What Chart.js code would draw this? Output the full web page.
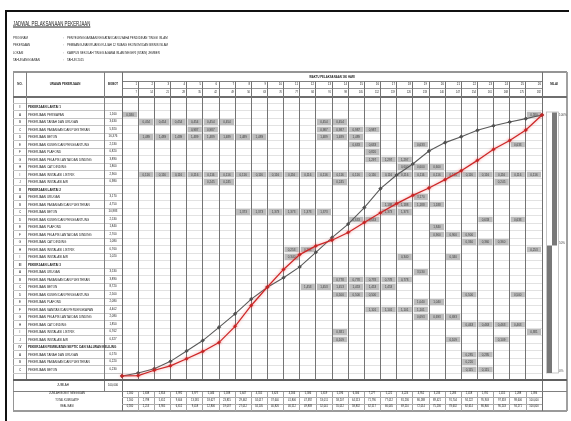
<!DOCTYPE html>
<html><head><meta charset="utf-8">
<script src="https://cdn.jsdelivr.net/npm/chart.js@4.4.1/dist/chart.umd.min.js"></script>
<style>
html,body{margin:0;padding:0;background:#fff;}
#page{position:relative;width:571px;height:421px;overflow:hidden;background:#fff;font-family:"Liberation Sans",Arial,sans-serif;color:#222;}
.t{position:absolute;white-space:nowrap;line-height:1;}
.ln{position:absolute;}
canvas{position:absolute;left:0;top:0;}
</style></head><body><div id="page">
<canvas id="gantt" width="571" height="421" style="z-index:1"></canvas>
<div id="grid" style="position:absolute;left:0;top:0;width:571px;height:421px;z-index:2"></div>
<canvas id="curve" width="571" height="421" style="z-index:4"></canvas>
</div>
<script>
// ---------------- DATA ----------------
const titleText = 'JADWAL PELAKSANAAN PEKERJAAN';
const infoLabels = ['PROGRAM','PEKERJAAN','LOKASI','TAHUN ANGGARAN'];
const infoValues = ['PENYELENGGARAAN KEGIATAN DAN USAHA PENDIDIKAN TINGGI ISLAM','PEMBANGUNAN RUANG KULIAH 12 RUANG EKONOMI DAN BISNIS ISLAM','KAMPUS SEKOLAH TINGGI AGAMA ISLAM NEGERI (STAIN) JEMBER','TAHUN 2015'];
const weekNo = ['1','2','3','4','5','6','7','8','9','10','11','12','13','14','15','16','17','18','19','20','21','22','23','24','25','26'];
const weekDay = ['7','14','21','28','35','42','49','56','63','70','77','84','91','98','105','112','119','126','133','140','147','154','161','168','175','182'];
const rowNo = ['I','A','B','C','D','E','F','G','H','I','J','II','A','B','C','D','E','F','G','H','I','III','A','B','C','D','E','F','G','H','I','J','IV','A','B','C'];
const rowName = ['PEKERJAAN LANTAI 1','PEKERJAAN PERSIAPAN','PEKERJAAN TANAH DAN URUGAN','PEKERJAAN PASANGAN DAN PLESTERAN','PEKERJAAN BETON','PEKERJAAN KUSEN DAN PENGGANTUNG','PEKERJAAN PLAFOND','PEKERJAAN PELAPIS LANTAI DAN DINDING','PEKERJAAN CAT DINDING','PEKERJAAN INSTALASI LISTRIK','PEKERJAAN INSTALASI AIR',
'PEKERJAAN LANTAI 2','PEKERJAAN URUGAN','PEKERJAAN PASANGAN DAN PLESTERAN','PEKERJAAN BETON','PEKERJAAN KUSEN DAN PENGGANTUNG','PEKERJAAN PLAFOND','PEKERJAAN PELAPIS LANTAI DAN DINDING','PEKERJAAN CAT DINDING','PEKERJAAN INSTALASI LISTRIK','PEKERJAAN INSTALASI AIR',
'PEKERJAAN LANTAI 3','PEKERJAAN URUGAN','PEKERJAAN PASANGAN DAN PLESTERAN','PEKERJAAN BETON','PEKERJAAN KUSEN DAN PENGGANTUNG','PEKERJAAN PLAFOND','PEKERJAAN SANITASI DAN PERLENGKAPAN','PEKERJAAN PELAPIS LANTAI DAN DINDING','PEKERJAAN CAT DINDING','PEKERJAAN INSTALASI LISTRIK','PEKERJAAN INSTALASI AIR',
'PEKERJAAN PEMBUATAN SEPTIC DAN SALURAN KELILING','PEKERJAAN TANAH DAN URUGAN','PEKERJAAN PASANGAN DAN PLESTERAN','PEKERJAAN BETON'];
const rowIsGroup = [1,0,0,0,0,0,0,0,0,0,0,1,0,0,0,0,0,0,0,0,0,1,0,0,0,0,0,0,0,0,0,0,1,0,0,0];
const rowBobot = ['','1,160','3,630','5,920','16,376','2,530','0,820','3,890','1,800','2,900','0,980',
'','3,170','4,750','10,983','2,530','1,840','2,700','1,080','0,760','1,020',
'','3,530','3,890','8,720','2,500','2,080','4,402','2,080','1,850','0,762','0,327',
'','0,570','0,220','0,230'];
const rowWeeks = [[],[1,26],[2,3,4,5,6,7,13,14],[5,6,13,14,15,16],[2,3,4,5,6,7,8,9,13,14,15],[15,16,19,25],[16],[16,17,18],[18,19,20],
[2,3,4,5,6,7,8,9,10,11,12,13,14,15,16,17,18,19,20,21,22,23,24,25,26],[6,7,14,24],
[],[19],[17,18,19,20],[8,9,10,11,12,13,17,18],[15,16,23,25],[20],[20,21,22],[22,23,24],[11,12,26],[11,18,21],
[],[19],[14,15,16,17,18],[12,13,14,15,16,17],[14,15,16,22,25],[19,20],[16,17,18,19],[19,20,21],[22,23,24,25],[14,26],[14,21,24],
[],[22,23],[22],[22,23]];
const rowCellValue = ['','0,580','0,454','0,987','1,489','0,633','0,820','1,297','0,600','0,116','0,245',
'','3,170','1,188','1,373','0,633','1,840','0,900','0,360','0,253','0,340',
'','3,530','0,778','1,453','0,500','1,040','1,101','0,693','0,463','0,381','0,109',
'','0,285','0,220','0,115'];
const totalBobot = '100,000';
const summaryLabels = ['JUMLAH BOBOT MINGGUAN','TOTAL KUMULATIF','REALISASI'];
const planWeekly = [1.160,1.638,2.814,3.992,3.977,5.046,5.188,5.647,4.555,3.623,4.166,5.586,5.619,5.196,6.306,7.277,5.222,4.224,4.952,3.233,2.283,2.418,1.781,1.415,1.288,1.394];
const planCumulative = [0,1.160,2.798,5.612,9.604,13.581,18.627,23.815,29.462,34.017,37.640,41.806,47.392,53.011,58.207,64.513,71.790,77.012,81.236,86.188,89.421,91.704,94.122,95.903,97.318,98.606,100.000];
const actualCumulative = [0,0.160,2.213,3.905,6.612,9.418,12.806,19.037,27.012,34.105,40.826,46.512,49.838,52.041,55.012,58.832,62.517,66.045,69.210,72.014,75.236,78.632,82.614,86.846,90.243,94.271,100.000];
const scaleTicks = [0,50,100];

// ---------------- LAYOUT HELPERS ----------------
const page = document.getElementById('grid');
function hl(x1,x2,y,c,w){const d=document.createElement('div');d.className='ln';d.style.cssText=`left:${x1}px;top:${y-w/2}px;width:${x2-x1}px;height:${w}px;background:${c}`;page.appendChild(d);}
function vl(x,y1,y2,c,w){const d=document.createElement('div');d.className='ln';d.style.cssText=`left:${x-w/2}px;top:${y1}px;width:${w}px;height:${y2-y1}px;background:${c}`;page.appendChild(d);}
function tx(s,x,y,o){o=o||{};const d=document.createElement('div');d.className='t';d.textContent=s;
 const size=o.size||4, sx=o.sx||0.78, al=o.align||'left';
 d.style.fontSize=size+'px';d.style.left=x+'px';d.style.top=y+'px';
 d.style.fontWeight=o.bold?'bold':'normal';d.style.color=o.color||'#1c1c1c';
 if(al==='left'){d.style.transformOrigin='0 50%';d.style.transform=`translateY(-50%) scaleX(${sx})`;}
 else if(al==='center'){d.style.transformOrigin='50% 50%';d.style.transform=`translate(-50%,-50%) scaleX(${sx})`;}
 else {d.style.transformOrigin='100% 50%';d.style.transform=`translate(-100%,-50%) scaleX(${sx})`;}
 if(o.underline)d.style.textDecoration='underline';
 page.appendChild(d);}
const fmt = v => v.toFixed(3).replace('.',',');

const L=13,R=567,T=72,XW=122,XE=542,WK=(XE-XW)/26;
const bodyTop=103.25,RH=7.5,nRows=rowNo.length;
const sepY=380,jumB=391,sumLines=[391,397.5,404,410.5],BOT=411;

// frame
hl(5,569,10.5,'#111',2); vl(6,10,421,'#111',2);
// title & info
tx(titleText,13,23,{size:7,sx:0.62,underline:true,color:'#222'});
infoLabels.forEach((s,i)=>{const y=39+i*7.4;tx(s,13,y,{size:3.7});tx(':',63,y,{size:3.7});tx(infoValues[i],67,y,{size:3.7});});

// table lines
hl(L,R,T,'#959595',2);
vl(L,T,BOT,'#959595',1); vl(R,T,BOT,'#a0a0a0',1.5); hl(L,R,BOT,'#9a9a9a',1.5);
hl(XW,XE,81,'#808080',0.8); hl(XW,XE,88.5,'#959595',0.6); hl(L,R,97,'#6e6e6e',1.2);
for(let k=0;k<=nRows;k++){const y=bodyTop+k*RH;hl(L,XW,y,'#c6c6c6',0.6);hl(XW,XE,y,'#e2e2e2',0.6);}
vl(26,T,sepY,'#808080',0.8); vl(104,T,jumB,'#808080',0.8); vl(XW,T,BOT,'#707070',1); vl(XE,T,BOT,'#707070',1);
for(let k=1;k<26;k++){const x=XW+k*WK;vl(x,81,sepY,'#747474',0.8);vl(x,jumB,sumLines[3],'#a8a8a8',0.6);}
hl(L,R,sepY,'#606060',1.3); hl(L,R,jumB,'#808080',0.8);
hl(XW,XE,sumLines[1],'#aaaaaa',0.5); hl(XW,XE,sumLines[2],'#aaaaaa',0.5);

// header texts
tx('NO.',19.5,85,{align:'center',bold:true,size:3.8});
tx('URAIAN PEKERJAAN',65,85,{align:'center',bold:true,size:3.8});
tx('BOBOT',113,85,{align:'center',bold:true,size:3.6});
tx('WAKTU PELAKSANAAN 180 HARI',332,77,{align:'center',bold:true,size:4,sx:0.7});
tx('NILAI',554,85,{align:'center',bold:true,size:3.8});
weekNo.forEach((s,k)=>{const xr=XW+(k+1)*WK-1.5;tx(s,xr,84.8,{align:'right',size:3.4,sx:0.85});tx(weekDay[k],xr,92.6,{align:'right',size:3.2,sx:0.8});});

// body rows
rowNo.forEach((s,i)=>{const y=bodyTop+(i+0.5)*RH;const b=!!rowIsGroup[i];
 tx(s,19.5,y,{align:'center',size:3.9,bold:b});
 tx(rowName[i],28,y,{size:3.9,bold:b});
 if(rowBobot[i])tx(rowBobot[i],113,y,{align:'center',size:3.7});
});
tx('JUMLAH',63,385.5,{align:'center',size:3.8});
tx(totalBobot,113,385.5,{align:'center',size:3.6});
const sumRows=[planWeekly,planCumulative.slice(1),actualCumulative.slice(1)];
summaryLabels.forEach((s,r)=>{const y=(sumLines[r]+sumLines[r+1])/2;tx(s,67,y,{align:'center',size:3.4});
 sumRows[r].forEach((v,k)=>tx(fmt(v),XW+(k+0.5)*WK,y,{align:'center',size:3.1,sx:0.85}));});

// ---------------- GANTT CELLS (Chart.js floating bars) ----------------
const ganttData=[];
rowWeeks.forEach((ws,i)=>ws.forEach(w=>ganttData.push({x:[w-1,w],y:String(i),v:rowCellValue[i]})));
new Chart(document.getElementById('gantt'),{
 type:'bar',
 data:{labels:rowNo.map((_,i)=>String(i)),datasets:[{data:ganttData,backgroundColor:'#bdbdbd',borderColor:'rgba(0,0,0,0)',
   borderWidth:{left:1,right:1,top:0,bottom:0},borderSkipped:false,barPercentage:0.8,categoryPercentage:1}]},
 options:{indexAxis:'y',responsive:false,animation:false,events:[],
  layout:{padding:{left:XW,right:571-XE,top:bodyTop,bottom:421-(bodyTop+nRows*RH)}},
  scales:{x:{type:'linear',min:0,max:26,display:false},y:{type:'category',display:false}},
  plugins:{legend:{display:false},tooltip:{enabled:false}}},
 plugins:[{id:'cellText',afterDatasetsDraw(c){const ctx=c.ctx;ctx.save();ctx.font='3px "Liberation Sans", Arial';ctx.fillStyle='#3a3a3a';
   ctx.textAlign='center';ctx.textBaseline='middle';
   c.getDatasetMeta(0).data.forEach((b,j)=>{const p=b.getCenterPoint();ctx.fillText(ganttData[j].v,p.x,p.y+0.3);});ctx.restore();}}]
});

// ---------------- S-CURVE (Chart.js lines) ----------------
const glow={id:'glow',
 beforeDatasetDraw(c,a){if(c.data.datasets[a.index].glow){c.ctx.save();c.ctx.shadowColor='rgba(240,90,90,0.6)';c.ctx.shadowBlur=3;}},
 afterDatasetDraw(c,a){if(c.data.datasets[a.index].glow)c.ctx.restore();}};
const scaleBar={id:'scaleBar',afterDraw(c){const ctx=c.ctx,y=c.scales.y;const p100=y.getPixelForValue(100),p50=y.getPixelForValue(50),p0=y.getPixelForValue(0);
 ctx.save();ctx.fillStyle='#fff';ctx.fillRect(546.5,p100-3,12,p0-p100);ctx.strokeStyle='#b8b8b8';ctx.lineWidth=0.8;ctx.strokeRect(546.5,p100-3,12,p0-p100);
 ctx.fillStyle='#787878';ctx.fillRect(552,p100-2.5,5,p50-p100+2.5);ctx.fillRect(547,p50,5,p0-3-p50);
 ctx.fillStyle='#444';ctx.font='3px "Liberation Sans", Arial';ctx.textBaseline='middle';ctx.textAlign='left';
 scaleTicks.forEach(v=>{const py=v===0?p0-5:(v===100?p100:y.getPixelForValue(v)-2);ctx.fillText(v+'%',559,py);});
 ctx.restore();}};
new Chart(document.getElementById('curve'),{
 type:'line',
 data:{datasets:[
  {label:'Realisasi',glow:true,data:actualCumulative.map((v,i)=>({x:i,y:v})),borderColor:'#cc2626',borderWidth:1.2,
   pointStyle:'rectRot',pointRadius:1.7,pointBackgroundColor:'#c22020',pointBorderColor:'#c22020',pointBorderWidth:0.5,clip:false},
  {label:'Rencana',data:planCumulative.map((v,i)=>({x:i,y:v})),borderColor:'#595959',borderWidth:1.1,
   pointStyle:'rectRot',pointRadius:1.8,pointBackgroundColor:'#505050',pointBorderColor:'#404040',pointBorderWidth:0.5,clip:false}
 ]},
 options:{responsive:false,animation:false,events:[],
  layout:{padding:{left:XW,right:571-XE,top:115,bottom:421-376}},
  scales:{x:{type:'linear',min:0,max:26,display:false},y:{min:0,max:100,display:false}},
  plugins:{legend:{display:false},tooltip:{enabled:false}}},
 plugins:[glow,scaleBar]
});
</script>
</body></html>
